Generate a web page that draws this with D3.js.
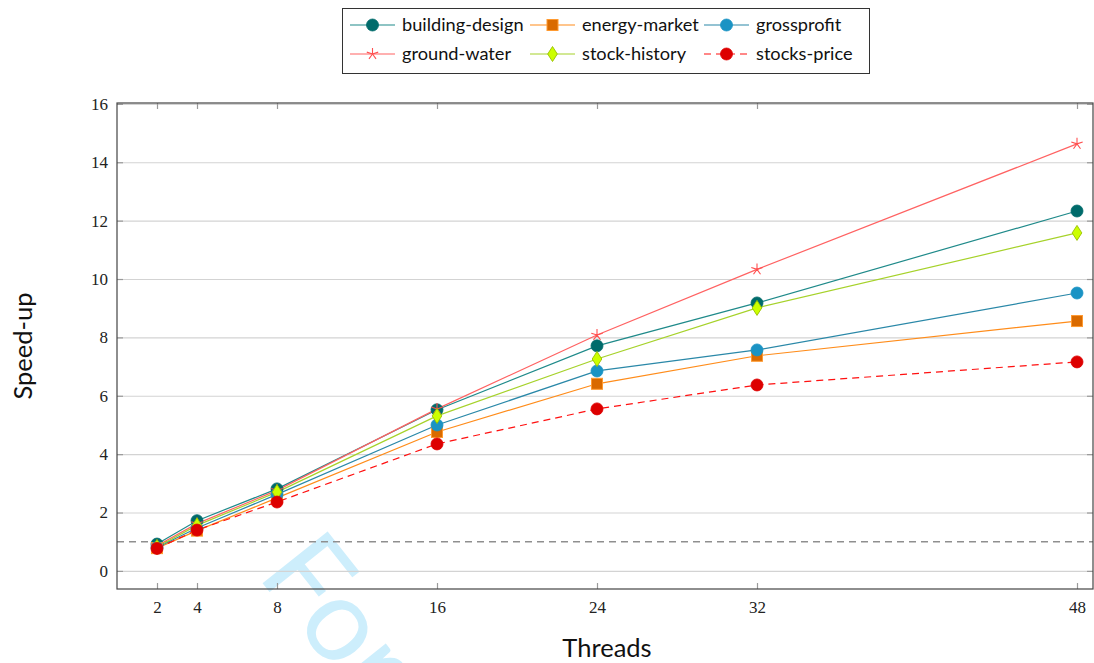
<!DOCTYPE html>
<html>
<head>
<meta charset="utf-8">
<script src="https://cdn.jsdelivr.net/npm/d3@7"></script>
<style>
  body { margin: 0; background: #fff; }
  svg { display: block; }
  .tick text { font-family: "Liberation Serif", "DejaVu Serif", serif !important; }
</style>
</head>
<body>
<div id="chart"></div>
<script>
// data
const threads = [2, 4, 8, 16, 24, 32, 48];
const yTicks = [0, 2, 4, 6, 8, 10, 12, 14, 16];

const buildingDesign = [0.92, 1.72, 2.81, 5.52, 7.71, 9.18, 12.33];
const energyMarket   = [0.78, 1.38, 2.50, 4.76, 6.41, 7.37, 8.56];
const grossprofit    = [0.80, 1.47, 2.62, 5.00, 6.85, 7.57, 9.52];
const groundWater    = [0.86, 1.62, 2.76, 5.55, 8.08, 10.33, 14.63];
const stockHistory   = [0.82, 1.56, 2.70, 5.31, 7.26, 9.01, 11.58];
const stocksPrice    = [0.77, 1.40, 2.36, 4.35, 5.55, 6.37, 7.16];

const series = [
  { name: "building-design", values: buildingDesign, line: "#1f8a8a", fill: "#006b6b", stroke: "#006b6b", marker: "circle" },
  { name: "energy-market", values: energyMarket, line: "#ff8c1a", fill: "#d96a00", stroke: "#ff9a30", marker: "square" },
  { name: "grossprofit", values: grossprofit, line: "#2a88a8", fill: "#1a93c4", stroke: "#1a93c4", marker: "circle" },
  { name: "ground-water", values: groundWater, line: "#ff6262", fill: "none", stroke: "#ff5050", marker: "star" },
  { name: "stock-history", values: stockHistory, line: "#a6d22a", fill: "#ccff00", stroke: "#98c000", marker: "diamond" },
  { name: "stocks-price", values: stocksPrice, line: "#ff1010", fill: "#dd0000", stroke: "#dd0000", marker: "circle", dash: "7,5" }
];

const width = 1094, height = 663;
const margin = { top: 103, left: 117, right: 1, bottom: 74 };
const iw = width - margin.left - margin.right;
const ih = height - margin.top - margin.bottom;

const svg = d3.select("#chart").append("svg")
  .attr("width", width).attr("height", height);

const serif = "'Liberation Serif', 'DejaVu Serif', serif";

// watermark
svg.append("text")
  .attr("transform", "translate(256,575) rotate(51.5)")
  .style("font-family", "Lato, sans-serif")
  .style("font-size", "116px")
  .style("fill", "#cdeefc")
  .text("For Peer Review");

const x = d3.scaleLinear().domain([0, 48.8]).range([0, iw]);
const y = d3.scaleLinear().domain([-0.62, 16.03]).range([ih, 0]);

const g = svg.append("g").attr("transform", `translate(${margin.left},${margin.top})`);

// grid
g.append("g")
  .call(d3.axisLeft(y).tickValues(yTicks).tickSize(-iw).tickFormat(""))
  .call(a => a.select(".domain").remove())
  .selectAll("line").attr("stroke", "#d3d3d3").attr("stroke-width", 1.2);

// inward ticks on all four sides
const tickStyle = a => {
  a.select(".domain").remove();
  a.selectAll("line").attr("stroke", "#9a9a9a").attr("stroke-width", 1.2);
};
g.append("g").attr("transform", `translate(0,${ih})`)
  .call(d3.axisBottom(x).tickValues(threads).tickSize(-6).tickFormat(""))
  .call(tickStyle);
g.append("g")
  .call(d3.axisTop(x).tickValues(threads).tickSize(-6).tickFormat(""))
  .call(tickStyle);
g.append("g")
  .call(d3.axisLeft(y).tickValues(yTicks).tickSize(-6).tickFormat(""))
  .call(tickStyle);
g.append("g").attr("transform", `translate(${iw},0)`)
  .call(d3.axisRight(y).tickValues(yTicks).tickSize(-6).tickFormat(""))
  .call(tickStyle);

// tick labels
const xl = g.append("g").attr("transform", `translate(0,${ih})`)
  .call(d3.axisBottom(x).tickValues(threads).tickSize(0).tickPadding(12))
  .attr("font-family", serif).attr("font-size", 17);
xl.select(".domain").remove();
xl.selectAll("text").style("fill", "#222");

const yl = g.append("g")
  .call(d3.axisLeft(y).tickValues(yTicks).tickSize(0).tickPadding(9))
  .attr("font-family", serif).attr("font-size", 17);
yl.select(".domain").remove();
yl.selectAll("text").style("fill", "#222");

// reference line at speed-up 1
g.append("line")
  .attr("x1", 0).attr("x2", iw).attr("y1", y(1)).attr("y2", y(1))
  .attr("stroke", "#8f8f8f").attr("stroke-width", 1.6).attr("stroke-dasharray", "7,5");

function drawMarker(sel, s, r) {
  if (s.marker === "circle") {
    sel.append("circle").attr("r", r).attr("fill", s.fill).attr("stroke", s.stroke).attr("stroke-width", 0.8);
  } else if (s.marker === "square") {
    sel.append("rect").attr("x", -r).attr("y", -r).attr("width", 2 * r).attr("height", 2 * r)
      .attr("fill", s.fill).attr("stroke", s.stroke).attr("stroke-width", 1);
  } else if (s.marker === "diamond") {
    sel.append("path").attr("d", `M0,${-r * 1.25}L${r * 0.8},0L0,${r * 1.25}L${-r * 0.8},0Z`)
      .attr("fill", s.fill).attr("stroke", s.stroke).attr("stroke-width", 0.9);
  } else if (s.marker === "star") {
    // five rays from the centre
    const p = [];
    for (let k = 0; k < 5; k++) {
      const a = Math.PI / 2 + k * 2 * Math.PI / 5;
      p.push(`M0,0L${Math.cos(a) * r},${-Math.sin(a) * r}`);
    }
    sel.append("path").attr("d", p.join("")).attr("fill", "none")
      .attr("stroke", s.stroke).attr("stroke-width", 1.1);
  }
}

const line = d3.line().x((d, i) => x(threads[i])).y(d => y(d));

series.forEach(s => {
  g.append("path").datum(s.values)
    .attr("d", line)
    .attr("fill", "none")
    .attr("stroke", s.line)
    .attr("stroke-width", 1.2)
    .attr("stroke-dasharray", s.dash || null);
});
series.forEach(s => {
  g.selectAll(null).data(s.values).enter().append("g")
    .attr("transform", (d, i) => `translate(${x(threads[i])},${y(d)})`)
    .each(function () { drawMarker(d3.select(this), s, s.marker === "square" ? 5.5 : 6); });
});

// frame
g.append("rect").attr("width", iw).attr("height", ih)
  .attr("fill", "none").attr("stroke", "#444").attr("stroke-width", 1.2);

// axis titles
svg.append("text")
  .attr("x", 607).attr("y", 657)
  .attr("text-anchor", "middle")
  .style("font-family", "Lato, sans-serif").style("font-size", "25.5px").style("fill", "#111")
  .text("Threads");
svg.append("text")
  .attr("transform", "translate(32,346) rotate(-90)")
  .attr("text-anchor", "middle")
  .style("font-family", "Lato, sans-serif").style("font-size", "25.5px").style("fill", "#111")
  .text("Speed-up");

// legend
const lg = svg.append("g");
lg.append("rect").attr("x", 342.5).attr("y", 8.5).attr("width", 527).attr("height", 65)
  .attr("fill", "#fff").attr("stroke", "#333").attr("stroke-width", 1);
const colX = [350, 530, 704];
const rowY = [25, 54];
series.forEach((s, i) => {
  const cx = colX[i % 3], cy = rowY[Math.floor(i / 3)];
  const e = lg.append("g").attr("transform", `translate(${cx},${cy})`);
  e.append("line").attr("x1", 0).attr("x2", 45).attr("stroke", s.line)
    .attr("stroke-width", 1.2).attr("stroke-dasharray", s.dash || null);
  drawMarker(e.append("g").attr("transform", "translate(22.5,0)"), s, s.marker === "square" ? 5.5 : 6);
  e.append("text").attr("x", 52).attr("dy", "0.35em")
    .style("font-family", "Lato, sans-serif").style("font-size", "18.2px").style("fill", "#111")
    .text(s.name);
});
</script>
</body>
</html>
